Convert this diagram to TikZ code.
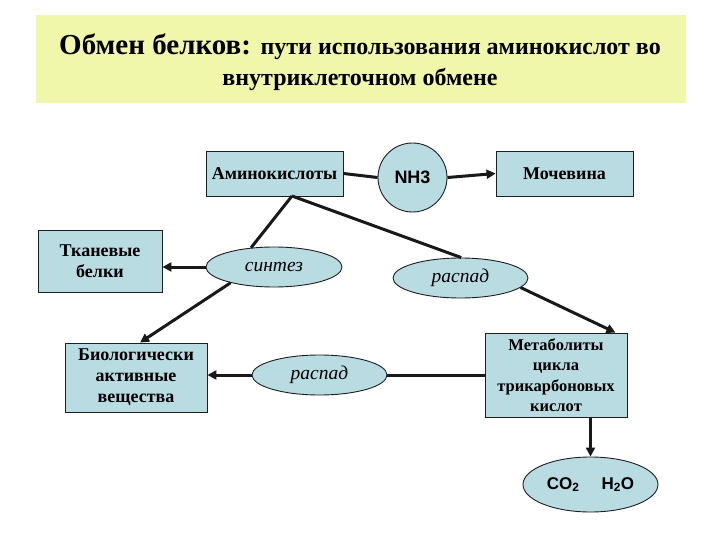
\documentclass[tikz,border=0pt]{standalone}
\usepackage{fontspec}
\setmainfont{Liberation Serif}
\newfontfamily\arialf{Liberation Sans}
\usetikzlibrary{arrows.meta,shapes.geometric,calc}
\definecolor{banner}{RGB}{240,246,170}
\definecolor{boxfill}{RGB}{184,220,226}
\definecolor{edge}{RGB}{30,30,30}
\tikzset{
  pbox/.style={draw=edge,line width=0.9pt,fill=boxfill,inner sep=0pt,align=center,
    font=\fontsize{18}{21}\selectfont\bfseries},
  pell/.style={ellipse,draw=edge,line width=0.9pt,fill=boxfill,inner sep=0pt,
    font=\fontsize{19.5}{22}\selectfont\itshape},
  conn/.style={line width=3pt,draw=black!90},
  arr/.style={conn,-{Triangle[length=9pt,width=9pt]}}
}
\begin{document}
\begin{tikzpicture}[x=1pt,y=-1pt]
\useasboundingbox (0,0) rectangle (720,540);
\fill[white] (0,0) rectangle (720,540);
\node[fill=banner,minimum width=650pt,minimum height=88pt,inner sep=0pt] (banner) at (361,59) {};
\node[align=center,inner sep=0pt,font=\fontsize{24}{31}\selectfont\bfseries] (title) at (360,62)
  {{\fontsize{29}{31}\selectfont Обмен белков: }пути использования аминокислот во\\
   внутриклеточном обмене};

\node[pbox,minimum width=137pt,minimum height=45pt] (amino) at (274.5,173.5) {Аминокислоты};
\node[circle,draw=edge,line width=0.9pt,fill=boxfill,minimum size=69pt,inner sep=0pt,
  font=\arialf\fontsize{18}{20}\selectfont\bfseries] (nh3) at (412.5,177.5) {NH3};
\node[pbox,minimum width=137pt,minimum height=45pt] (moch) at (564.5,173.5) {Мочевина};
\node[pell,minimum width=136pt,minimum height=40pt] (sintez) at (274,267) {синтез};
\node[pell,minimum width=135pt,minimum height=40pt] (raspadA) at (460.5,278) {распад};
\node[pbox,minimum width=124pt,minimum height=62pt] (tkan) at (100,261) {Тканевые\\белки};
\node[pbox,minimum width=142pt,minimum height=69pt] (bio) at (136,377.5) {Биологически\\активные\\вещества};
\node[pell,minimum width=135pt,minimum height=40pt] (raspadB) at (319.5,375) {распад};
\node[pbox,minimum width=142pt,minimum height=84pt,font=\fontsize{16.5}{20.5}\selectfont\bfseries] (metab) at (556,375) {Метаболиты\\цикла\\трикарбоновых\\кислот};
\node[ellipse,draw=edge,line width=0.9pt,fill=boxfill,minimum width=135pt,minimum height=55pt,inner sep=0pt,
  font=\arialf\fontsize{17}{20}\selectfont\bfseries] (co2) at (590.5,484.5) {CO\textsubscript{2}\hspace{1.3em}H\textsubscript{2}O};

\coordinate (ab) at (292,196);
\draw[conn] (amino.east) -- (nh3.west);
\draw[arr] (nh3.east) -- (moch.west);
\draw[conn] (ab) -- (sintez.140);
\draw[conn] (ab) -- (raspadA.88);
\draw[arr] (sintez.west) -- (sintez.west -| tkan.east);
\draw[arr] (sintez.-160) -- ([xshift=4pt]bio.north);
\draw[arr] (raspadB.west) -- (raspadB.west -| bio.east);
\draw[conn] (metab.west) -- (raspadB.east);
\draw[arr] (raspadA.-9) -- ([xshift=-12pt]metab.north east);
\draw[arr] (co2.north |- metab.south) -- (co2.north);
\end{tikzpicture}
\end{document}
